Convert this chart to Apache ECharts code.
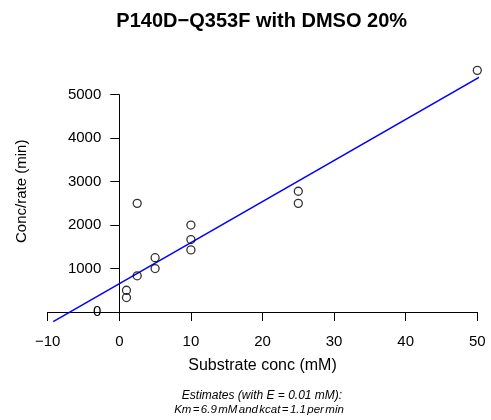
<!DOCTYPE html>
<html>
<head>
<meta charset="utf-8">
<script src="https://cdn.jsdelivr.net/npm/echarts@6/dist/echarts.min.js"></script>
<style>
  html, body { margin: 0; padding: 0; background: #fff; }
  #chart { width: 491px; height: 420px; }
</style>
</head>
<body>
<div id="chart"></div>
<script>
// Hanes-Woolf plot: substrate concentration vs. concentration / rate
const substrate = [1, 1, 2.5, 2.5, 5, 5, 10, 10, 10, 25, 25, 50];
const concPerRate = [500, 333, 2500, 833, 1250, 1000, 2000, 1667, 1429, 2778, 2500, 5560];

// Fitted parameters
const enzymeConc = 0.01;   // mM
const km = 6.88;           // mM
const kcat = 1.058;        // per min

const xTicks = [-10, 0, 10, 20, 30, 40, 50];
const yTicks = [0, 1000, 2000, 3000, 4000, 5000];

// Line S/v = S/Vmax + Km/Vmax
const slope = 1 / (kcat * enzymeConc);
const intercept = km * slope;
const yFloor = -222, xCeil = 52.4;
const fitLine = [
  [(yFloor - intercept) / slope, yFloor],
  [xCeil, intercept + slope * xCeil]
];

const font = 'Liberation Sans, Arial, Helvetica, sans-serif';
const fmtTick = v => (v < 0 ? '\u2212' + Math.abs(v) : String(v));

// plot frame in pixels
const gridLeft = 47.7, gridRight = 477.3;
const xUnit = (gridRight - gridLeft) / (xTicks[xTicks.length - 1] - xTicks[0]);
const yAxisShift = -(0 - xTicks[0]) * xUnit;   // vertical axis sits at x = 0

// second footnote line: words joined by narrow spaces
const noteWords = ['Km', '=', km.toFixed(1), 'mM', 'and', 'kcat', '=', kcat.toFixed(1), 'per', 'min'];
const noteRich = noteWords.map(w => '{w|' + w + '}').join('{s| }');

const chart = echarts.init(document.getElementById('chart'), null, { renderer: 'canvas' });
chart.setOption({
  backgroundColor: '#fff',
  animation: false,
  textStyle: { fontFamily: font, color: '#000' },
  grid: { left: gridLeft, right: 491 - gridRight, top: 94.7, bottom: 108, containLabel: false, outerBoundsMode: 'none' },
  xAxis: {
    type: 'value',
    min: xTicks[0],
    max: xTicks[xTicks.length - 1],
    interval: 10,
    splitLine: { show: false },
    axisLine: { show: true, onZero: false, lineStyle: { color: '#000', width: 1 } },
    axisTick: { show: true, inside: false, length: 9, lineStyle: { color: '#000', width: 1 } },
    axisLabel: { margin: 22.5, fontSize: 15, color: '#000', fontFamily: font, formatter: fmtTick }
  },
  yAxis: {
    type: 'value',
    min: yTicks[0],
    max: yTicks[yTicks.length - 1],
    interval: 1000,
    offset: yAxisShift,
    splitLine: { show: false },
    axisLine: { show: true, onZero: false, lineStyle: { color: '#000', width: 1 } },
    axisTick: { show: true, inside: false, length: 9, lineStyle: { color: '#000', width: 1 } },
    axisLabel: { margin: 18, fontSize: 15, color: '#000', fontFamily: font, formatter: fmtTick }
  },
  series: [
    {
      type: 'line',
      data: fitLine,
      clip: false,
      symbol: 'none',
      z: 2,
      lineStyle: { color: '#0000ff', width: 1.5 }
    },
    {
      type: 'scatter',
      data: substrate.map((s, i) => [s, concPerRate[i]]),
      clip: false,
      symbol: 'circle',
      symbolSize: 8,
      z: 3,
      itemStyle: { color: 'rgba(0,0,0,0)', borderColor: '#000', borderWidth: 1.3 }
    }
  ],
  graphic: [
    {
      type: 'text', x: 261.7, y: 21,
      style: { text: 'P140D\u2212Q353F with DMSO 20%', font: 'bold 20px ' + font, fill: '#000', align: 'center', verticalAlign: 'middle' }
    },
    {
      type: 'text', x: 262.5, y: 366,
      style: { text: 'Substrate conc (mM)', font: '16px ' + font, fill: '#000', align: 'center', verticalAlign: 'middle' }
    },
    {
      type: 'text', x: 22, y: 191.3, rotation: Math.PI / 2,
      style: { text: 'Conc/rate (min)', font: '15px ' + font, fill: '#000', align: 'center', verticalAlign: 'middle' }
    },
    {
      type: 'text', x: 262, y: 396,
      style: { text: 'Estimates (with E = ' + enzymeConc + ' mM):', font: 'italic 12px ' + font, fill: '#000', align: 'center', verticalAlign: 'middle' }
    },
    {
      type: 'text', x: 259, y: 409.5,
      style: {
        text: noteRich, align: 'center', verticalAlign: 'middle',
        rich: {
          w: { fontFamily: font, fontStyle: 'italic', fontSize: 11.5, fill: '#000' },
          s: { fontFamily: font, fontSize: 5, fill: '#000' }
        }
      }
    }
  ]
});
</script>
</body>
</html>
